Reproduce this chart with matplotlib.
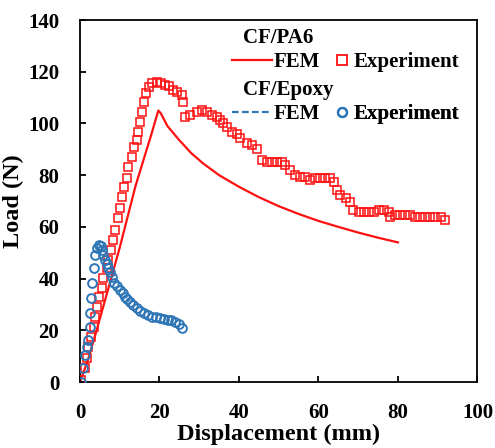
import matplotlib
matplotlib.use("Agg")
import matplotlib.pyplot as plt
from matplotlib.lines import Line2D

plt.rcParams['font.family'] = ['Liberation Serif', 'DejaVu Serif']
plt.rcParams['font.weight'] = 'bold'

# CF/PA6 - FEM
pa6_fem_x = [0, 2, 4, 6, 8, 10, 12, 14, 16, 18, 19.7, 20.3, 22, 25, 28, 31, 35, 40, 45, 50, 55, 60, 65, 70, 75, 80]
pa6_fem_y = [0, 8.5, 19, 30, 41, 52, 64, 76, 86, 96, 105, 104, 99, 93.5, 88.5, 84.5, 80, 75.5, 71.5, 68, 65, 62.3, 60, 57.8, 55.8, 54]

# CF/PA6 - experiment
pa6_exp_x = [0.25, 1.3, 1.7, 2.1, 2.8, 3.4, 3.8, 4.4, 4.8, 5.5, 5.9, 6.7, 7.1, 7.8, 8.4, 8.8, 9.5,
             10.1, 10.5, 11.1, 11.8, 12.2, 13.0, 13.7, 14.3, 14.7, 15.1, 15.5, 16.2, 16.7, 17.4, 18.2,
             19.3, 20.4, 21.4, 22.5, 23.5, 24.4, 25.6, 26.0, 26.4, 27.7, 29.4, 30.6, 31.9, 33.2, 34.4,
             35.3, 36.1, 36.9, 38.2, 39.5, 40.3, 42.0, 43.2, 44.5, 45.8, 47.0, 48.3, 49.6, 50.8, 51.6,
             52.9, 54.2, 55.4, 56.7, 57.9, 59.2, 60.5, 61.7, 63.0, 63.8, 64.7, 65.5, 66.8, 68.0, 68.8,
             70.1, 71.4, 72.6, 73.9, 75.1, 76.4, 77.7, 78.1, 79.3, 80.6, 81.8, 83.1, 84.4, 85.6, 86.9,
             88.1, 89.4, 90.7, 91.9]
pa6_exp_y = [0.8, 5.4, 9.2, 13.7, 17.5, 21.4, 25.3, 29.1, 33, 36.2, 40.1, 44, 47.2, 51, 54.9, 58.8, 63.3,
             67.2, 71.7, 75.5, 79, 83, 87, 91, 93.6, 96.8, 100.7, 104.6, 108.4, 111.7, 114.2, 115.5,
             116.2, 115.8, 114.9, 114.3, 112.9, 112.3, 111, 108.4, 102.6, 103.3, 104.6, 105.2, 104.6, 103.3, 102.6,
             101.4, 100, 98.7, 96.8, 96.1, 94.2, 92.3, 91.7, 90.3, 85.9, 85.2, 85.2, 85.2, 85.2, 83.8,
             81.9, 80, 79.4, 79.4, 78, 78.8, 78.8, 78.8, 78.8, 77.5, 74.3, 72.3, 71, 69.7, 66.5,
             65.9, 65.9, 65.9, 65.9, 66.5, 66.5, 65.9, 63.9, 64.6, 64.6, 64.6, 64.6, 63.9, 63.9, 63.9,
             63.9, 63.7, 63.7, 62.6]

# CF/Epoxy - experiment
ep_exp_x = [0.25, 0.8, 1.3, 1.7, 2.1, 2.5, 2.5, 2.8, 2.9, 3.5, 3.8, 4.3, 4.8, 5.2, 5.6, 5.9, 6.3, 6.7,
            7.1, 7.5, 8.0, 8.6, 9.3, 10.1, 10.7, 11.3, 11.9, 12.6, 13.4, 14.3, 15.2, 16.0, 17.0, 18.0,
            19.0, 20.2, 21.2, 22.2, 23.0, 23.9, 24.8, 25.6]
ep_exp_y = [0, 5.3, 10.4, 13.5, 16.2, 21.4, 26.6, 32.4, 38.2, 44, 49.1, 52, 53, 52.5, 51, 49, 47.2, 45.5,
            44, 42.5, 40.7, 38.2, 37, 35.6, 34.3, 33, 32, 31, 29.8, 28.5, 27.5, 26.6, 26, 25.3,
            25, 24.6, 24.3, 24, 23.8, 23.3, 22.5, 20.8]

red = '#FF1010'
blue = '#2E75B6'

fig = plt.figure(figsize=(4.95, 4.48), dpi=100)
ax = fig.add_axes([0.1616, 0.1473, 0.803, 0.808])

ax.plot(pa6_fem_x, pa6_fem_y, color=red, lw=1.6, zorder=2)
ax.plot(pa6_exp_x, pa6_exp_y, 's', ms=6.3, mfc='none', mec=red, mew=1.1, zorder=3)
ax.plot(ep_exp_x, ep_exp_y, 'o', ms=6.3, mfc='none', mec=blue, mew=1.4, zorder=4)

ax.set_xlim(0, 100)
ax.set_ylim(0, 140)
ax.set_xticks(range(0, 101, 20))
ax.set_yticks(range(0, 141, 20))
ax.tick_params(axis='both', direction='in', length=4, width=1.3, labelsize=15)
ax.tick_params(axis='x', pad=15)
ax.tick_params(axis='y', pad=15)
for sp in ax.spines.values():
    sp.set_linewidth(1.3)

ax.set_xlabel('Displacement (mm)', fontsize=17.5, fontweight='bold', labelpad=1)
ax.set_ylabel('Load (N)', fontsize=17.5, fontweight='bold', labelpad=3)

# legend, built as small pieces
fem_pa6 = Line2D([], [], color=red, lw=1.6)
exp_pa6 = Line2D([], [], marker='s', ls='none', ms=6.5, mfc='none', mec=red, mew=1.3)
fem_ep = Line2D([], [], color=blue, lw=1.6, ls=(0, (3, 1.5)))
exp_ep = Line2D([], [], marker='o', ls='none', ms=6.5, mfc='none', mec=blue, mew=1.6)

lkw = dict(frameon=False, borderpad=0, borderaxespad=0, loc='center left',
           prop={'size': 15, 'weight': 'bold'})
rows = [(fem_pa6, exp_pa6, 0.884), (fem_ep, exp_ep, 0.740)]
for fem, exp, yy in rows:
    l1 = ax.legend([fem], ['FEM'], handlelength=1.95, handletextpad=0.05,
                   bbox_to_anchor=(0.382, yy), **lkw)
    ax.add_artist(l1)
    l2 = ax.legend([exp], ['Experiment'], handlelength=0.6, handletextpad=0.25,
                   bbox_to_anchor=(0.644, yy), **lkw)
    ax.add_artist(l2)

ax.text(0.410, 0.950, 'CF/PA6', transform=ax.transAxes, fontsize=15,
        fontweight='bold', va='center', ha='left')
ax.text(0.410, 0.807, 'CF/Epoxy', transform=ax.transAxes, fontsize=15,
        fontweight='bold', va='center', ha='left')

plt.savefig('out.png', dpi=100)
